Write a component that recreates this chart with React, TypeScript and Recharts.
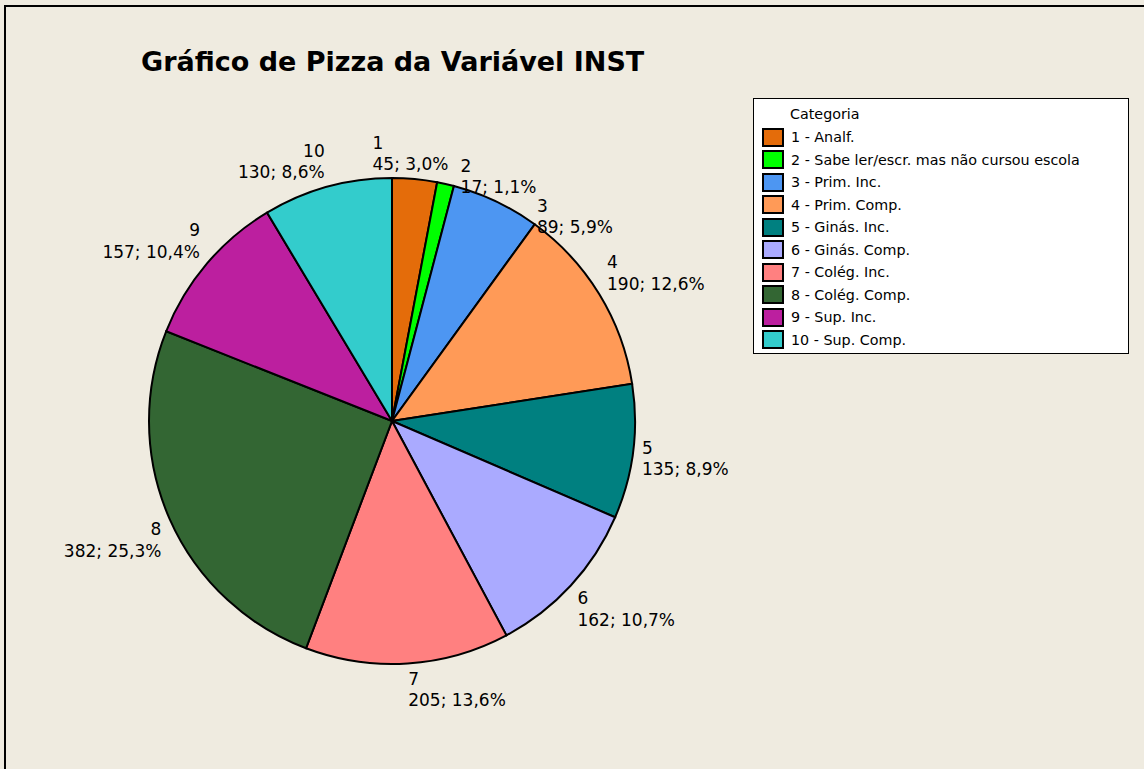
import { PieChart, Pie, Cell, Legend } from 'recharts';

const categories = [
  '1 - Analf.',
  '2 - Sabe ler/escr. mas não cursou escola',
  '3 - Prim. Inc.',
  '4 - Prim. Comp.',
  '5 - Ginás. Inc.',
  '6 - Ginás. Comp.',
  '7 - Colég. Inc.',
  '8 - Colég. Comp.',
  '9 - Sup. Inc.',
  '10 - Sup. Comp.',
];
const codes = ['1', '2', '3', '4', '5', '6', '7', '8', '9', '10'];
const counts = [45, 17, 89, 190, 135, 162, 205, 382, 157, 130];

const colors = [
  '#E46C0A',
  '#00FF00',
  '#4D96F2',
  '#FF9A57',
  '#008080',
  '#AAAAFF',
  '#FF8080',
  '#336633',
  '#BC1F9F',
  '#33CCCC',
];

// labels 1-3 get pushed around to avoid overlapping, like the original
const labelNudge = [
  [-43, 0],
  [13, 18],
  [37, 40],
  [0, 0],
  [0, 0],
  [0, 0],
  [0, 0],
  [0, 0],
  [0, 0],
  [0, 0],
];

const data = codes.map((code, i) => ({ name: categories[i], code, value: counts[i] }));

const RAD = Math.PI / 180;
const LABEL_FONT = 17;
const CAP = 12.4;
const LINE_GAP = 21.5;
const BOX_H = CAP + LINE_GAP;

function PieLabel(props: any) {
  const { cx, cy, midAngle, outerRadius, index, value, percent } = props;
  const r = outerRadius + 9;
  const ux = Math.cos(-midAngle * RAD);
  const uy = Math.sin(-midAngle * RAD);
  const [dx, dy] = labelNudge[index];
  const px = cx + r * ux + dx;
  const py = cy + r * uy + dy;
  const t = Math.max(-1, Math.min(1, -uy * 2.5));
  const top = py - (BOX_H * (1 + t)) / 2;
  const anchor = ux >= 0 ? 'start' : 'end';
  const pct = (percent * 100).toFixed(1).replace('.', ',');
  return (
    <text
      x={px}
      y={top + CAP}
      textAnchor={anchor}
      fill="#000"
      fontSize={LABEL_FONT}
      fontFamily="'DejaVu Sans', sans-serif"
    >
      <tspan x={px}>{data[index].code}</tspan>
      <tspan x={px} dy={LINE_GAP}>{`${value}; ${pct}%`}</tspan>
    </text>
  );
}

function CategoryLegend() {
  return (
    <div
      style={{
        boxSizing: 'border-box',
        width: 376,
        height: 256,
        background: '#fff',
        border: '1px solid #000',
        fontFamily: "'DejaVu Sans', sans-serif",
        fontSize: 14.3,
        color: '#000',
        position: 'relative',
      }}
    >
      <div style={{ position: 'absolute', left: 36, top: 6, lineHeight: '18px' }}>Categoria</div>
      {categories.map((c, i) => (
        <div
          key={c}
          style={{ position: 'absolute', left: 8, top: 28 + i * 22.5, height: 20, display: 'flex', alignItems: 'center' }}
        >
          <span
            style={{
              boxSizing: 'border-box',
              width: 22,
              height: 19,
              background: colors[i],
              border: '2px solid #000',
              marginRight: 7,
            }}
          />
          <span style={{ lineHeight: '18px' }}>{c}</span>
        </div>
      ))}
    </div>
  );
}

export default function App() {
  return (
    <div
      style={{
        position: 'fixed',
        left: 0,
        top: 0,
        width: 1144,
        height: 769,
        background: '#EFEBE0',
        overflow: 'hidden',
      }}
    >
      <div
        style={{
          position: 'absolute',
          left: 4,
          top: 5,
          width: 1200,
          height: 800,
          borderLeft: '2px solid #000',
          borderTop: '2px solid #000',
        }}
      />
      <div
        style={{
          position: 'absolute',
          left: 141,
          top: 48,
          fontFamily: "'DejaVu Sans', sans-serif",
          fontWeight: 'bold',
          fontSize: 27,
          lineHeight: '27px',
          color: '#000',
          whiteSpace: 'nowrap',
        }}
      >
        Gráfico de Pizza da Variável INST
      </div>
      <div style={{ position: 'absolute', left: 0, top: 0 }}>
        <PieChart width={1144} height={769} margin={{ top: 0, right: 0, bottom: 0, left: 0 }}>
          <Pie
            data={data}
            dataKey="value"
            nameKey="name"
            cx={392}
            cy={421}
            outerRadius={243}
            startAngle={90}
            endAngle={-270}
            stroke="#000"
            strokeWidth={2}
            label={PieLabel}
            labelLine={false}
            isAnimationActive={false}
          >
            {data.map((d, i) => (
              <Cell key={d.code} fill={colors[i]} stroke="#000" strokeWidth={2} />
            ))}
          </Pie>
          <Legend
            layout="vertical"
            align="right"
            verticalAlign="top"
            content={() => <CategoryLegend />}
            wrapperStyle={{ position: 'absolute', left: 753, top: 98, width: 376, height: 256 }}
          />
        </PieChart>
      </div>
    </div>
  );
}
